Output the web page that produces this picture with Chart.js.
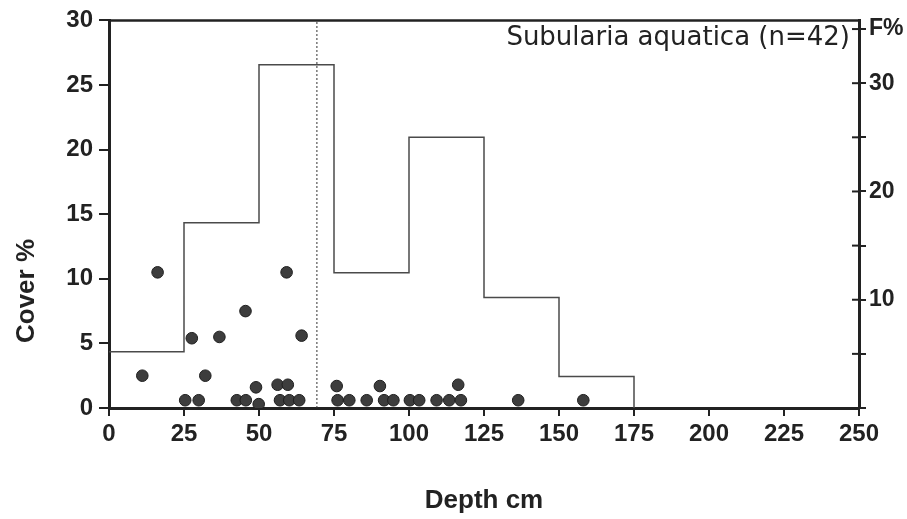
<!DOCTYPE html>
<html>
<head>
<meta charset="utf-8">
<script src="https://cdn.jsdelivr.net/npm/chart.js@4"></script>
<style>
    body { margin: 0; background: #fff; }
    #wrap { width: 907px; height: 519px; }
</style>
</head>
<body>
<div id="wrap"><canvas id="coverChart"></canvas></div>
<script>
// Точки: глубина (см) и покрытие (%)
let depthCm = [16.2, 59.2, 27.6, 36.8, 45.5, 64.2, 11.1, 32.1, 49.0, 56.2, 59.6, 75.9, 90.3, 116.4,
    25.4, 29.9, 42.6, 45.6, 57.0, 60.1, 63.4, 76.2, 80.1, 85.9, 91.7, 94.8, 100.3, 103.4,
    109.2, 113.4, 117.3, 136.4, 158.1, 49.9];
let coverPct = [10.5, 10.5, 5.4, 5.5, 7.5, 5.6, 2.5, 2.5, 1.6, 1.8, 1.8, 1.7, 1.7, 1.8,
    0.6, 0.6, 0.6, 0.6, 0.6, 0.6, 0.6, 0.6, 0.6, 0.6, 0.6, 0.6, 0.6, 0.6,
    0.6, 0.6, 0.6, 0.6, 0.6, 0.3];

// Гистограмма частоты F% по классам глубины
let binStart = [0, 25, 50, 75, 100, 125, 150, 175];
let freqPct = [5.2, 17.1, 31.7, 12.5, 25.0, 10.2, 2.9, 0];

// Средняя глубина (пунктир)
let medianDepth = 69.3;

let xTicks = [0, 25, 50, 75, 100, 125, 150, 175, 200, 225, 250];
let coverTicks = [0, 5, 10, 15, 20, 25, 30];
let freqTicks = [0, 5, 10, 15, 20, 25, 30, 35];

let speciesTitle = "Subularia aquatica (n=42)";

const ink = "#222";
const tickFont = { family: "'Liberation Sans', Arial, sans-serif", size: 24, weight: "bold" };

// Рамка сверху, внутренние засечки справа, подписи
const framePlugin = {
    id: "frame",
    afterDraw(chart) {
        const ctx = chart.ctx;
        const a = chart.chartArea;
        ctx.save();
        ctx.strokeStyle = ink;
        ctx.lineWidth = 2.5;
        ctx.beginPath();
        ctx.moveTo(a.left - 1, a.top);
        ctx.lineTo(a.right + 1, a.top);
        ctx.stroke();

        // засечки правой оси внутрь
        const y2 = chart.scales.y2;
        ctx.lineWidth = 2;
        y2.ticks.forEach(t => {
            let py = y2.getPixelForValue(t.value);
            ctx.beginPath();
            ctx.moveTo(a.right - 7, py);
            ctx.lineTo(a.right, py);
            ctx.stroke();
        });

        ctx.fillStyle = ink;
        ctx.font = "26px 'DejaVu Sans', sans-serif";
        ctx.textAlign = "right";
        ctx.textBaseline = "middle";
        ctx.fillText(speciesTitle, a.right - 9, 38);

        ctx.translate(27, 291);
        ctx.rotate(-Math.PI / 2);
        ctx.textAlign = "center";
        ctx.font = "bold 26px 'Liberation Sans', Arial, sans-serif";
        ctx.fillText("Cover %", 0, 0);
        ctx.restore();
    }
};

let ctx = document.getElementById("coverChart").getContext("2d");
let coverChart = new Chart(ctx, {
    data: {
        datasets: [
            {
                type: "line",
                label: "F%",
                data: binStart.map((d, i) => ({ x: d, y: freqPct[i] })),
                yAxisID: "y2",
                stepped: true,
                borderColor: "#4a4a4a",
                borderWidth: 1.5,
                pointRadius: 0,
                fill: false
            },
            {
                type: "line",
                label: "median",
                data: [{ x: medianDepth, y: 0 }, { x: medianDepth, y: 30 }],
                yAxisID: "y",
                borderColor: "#333",
                borderWidth: 1,
                borderDash: [2, 2],
                pointRadius: 0
            },
            {
                type: "scatter",
                label: "Cover",
                data: depthCm.map((d, i) => ({ x: d, y: coverPct[i] })),
                yAxisID: "y",
                backgroundColor: "#3d3d3d",
                borderColor: "#1e1e1e",
                borderWidth: 1,
                pointRadius: 5.8
            }
        ]
    },
    options: {
        responsive: true,
        maintainAspectRatio: false,
        animation: false,
        layout: { padding: { top: 20, left: 0, right: 0, bottom: 0 } },
        plugins: { legend: { display: false }, tooltip: { enabled: false } },
        scales: {
            x: {
                type: "linear",
                min: 0,
                max: 250,
                afterFit: s => { s.height = 111; },
                afterBuildTicks: s => { s.ticks = xTicks.map(v => ({ value: v })); },
                border: { color: ink, width: 3 },
                grid: { drawOnChartArea: false, color: ink, tickLength: 8, lineWidth: 2 },
                ticks: { color: ink, font: tickFont, padding: 4, maxRotation: 0 },
                title: {
                    display: true,
                    text: "Depth cm",
                    color: ink,
                    font: { family: "'Liberation Sans', Arial, sans-serif", size: 26, weight: "bold" },
                    padding: { top: 0, bottom: 3 }
                }
            },
            y: {
                position: "left",
                min: 0,
                max: 30,
                afterFit: s => { s.width = 109; },
                afterBuildTicks: s => { s.ticks = coverTicks.map(v => ({ value: v })); },
                border: { color: ink, width: 3 },
                grid: { drawOnChartArea: false, color: ink, tickLength: 10, lineWidth: 2 },
                ticks: { color: ink, font: tickFont, padding: 6 }
            },
            y2: {
                position: "right",
                min: 0,
                max: 35.8,
                afterFit: s => { s.width = 48; },
                afterBuildTicks: s => { s.ticks = freqTicks.map(v => ({ value: v })); },
                border: { color: ink, width: 3 },
                grid: { drawOnChartArea: false, color: ink, tickLength: 7, lineWidth: 2 },
                ticks: {
                    color: ink,
                    font: { family: "'Liberation Sans', Arial, sans-serif", size: 23, weight: "bold" },
                    padding: 3,
                    callback: v => (v === 35 ? "F%" : (v > 0 && v % 10 === 0 ? v : ""))
                }
            }
        }
    },
    plugins: [framePlugin]
});
</script>
</body>
</html>
